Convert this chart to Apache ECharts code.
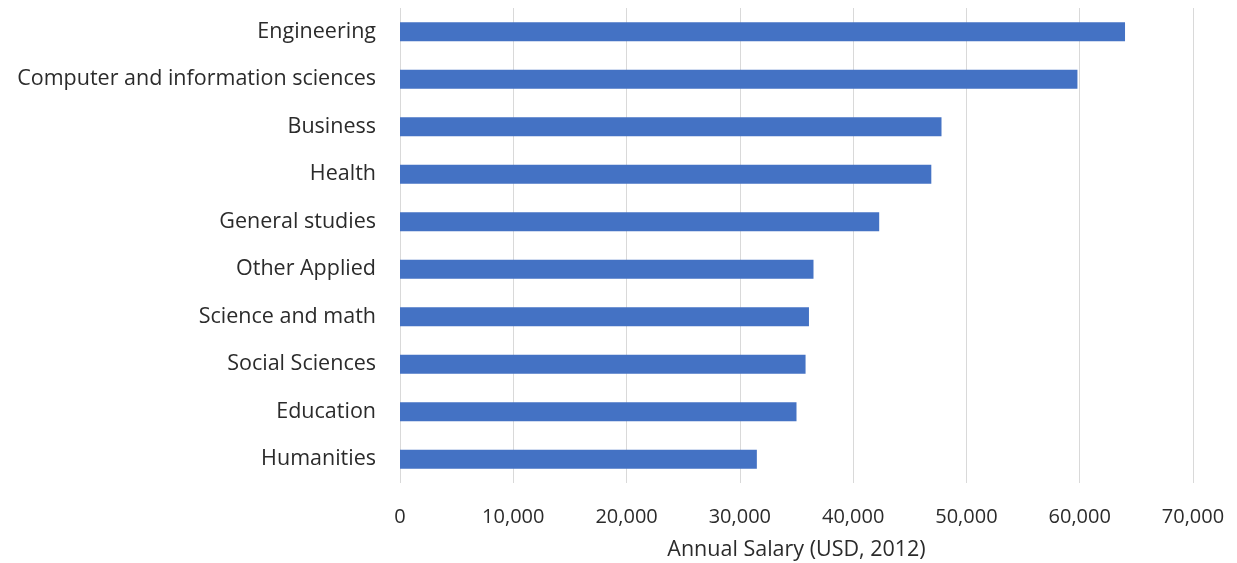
<!DOCTYPE html>
<html>
<head>
<meta charset="utf-8">
<script src="https://cdn.jsdelivr.net/npm/echarts@6/dist/echarts.min.js"></script>
<style>
  html, body { margin: 0; padding: 0; background: #ffffff; }
  #chart { width: 1237px; height: 563px; }
</style>
</head>
<body>
<div id="chart"></div>
<script>
// Fields of study, top to bottom
const fields = [
  'Engineering',
  'Computer and information sciences',
  'Business',
  'Health',
  'General studies',
  'Other Applied',
  'Science and math',
  'Social Sciences',
  'Education',
  'Humanities'
];

// Annual salary (USD, 2012) for each field
const salaries = [64000, 59800, 47800, 46900, 42300, 36500, 36100, 35800, 35000, 31500];

const xAxisTitle = 'Annual Salary (USD, 2012)';

const fontFamily = '"Open Sans", "Liberation Sans", sans-serif';
const textColor = '#2b2b2b';

const chart = echarts.init(document.getElementById('chart'), null, { renderer: 'canvas' });

chart.setOption({
  animation: false,
  backgroundColor: '#ffffff',
  grid: {
    left: 400, right: 44, top: 8, bottom: 80,
    containLabel: false,
    outerBoundsMode: 'none'
  },
  xAxis: {
    type: 'value',
    min: 0,
    max: 70000,
    interval: 10000,
    axisLine: { show: false },
    axisTick: { show: false },
    splitLine: { show: true, lineStyle: { color: '#d9d9d9', width: 1 } },
    axisLabel: {
      margin: 24,
      color: textColor,
      fontFamily: fontFamily,
      fontSize: 20,
      formatter: v => v.toLocaleString('en-US')
    },
    name: xAxisTitle,
    nameLocation: 'middle',
    nameGap: 56,
    nameTextStyle: { color: textColor, fontFamily: fontFamily, fontSize: 21.5 }
  },
  yAxis: {
    type: 'category',
    data: fields,
    inverse: true,
    axisLine: { show: false },
    axisTick: { show: false },
    splitLine: { show: false },
    axisLabel: {
      margin: 24,
      color: textColor,
      fontFamily: fontFamily,
      fontSize: 21.5
    }
  },
  series: [{
    type: 'bar',
    data: salaries,
    barCategoryGap: '60%',
    itemStyle: { color: '#4472c4' }
  }]
});
</script>
</body>
</html>
